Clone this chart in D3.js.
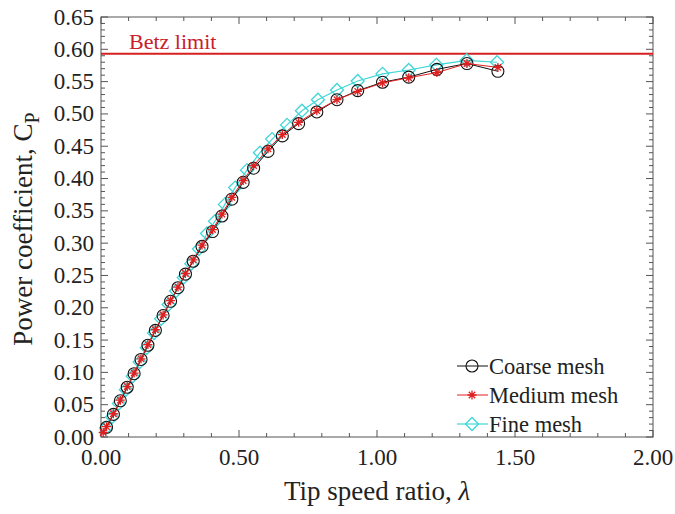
<!DOCTYPE html>
<html><head><meta charset="utf-8">
<script src="https://cdn.jsdelivr.net/npm/d3@7"></script>
<style>body{margin:0;background:#fff}svg{display:block}text{font-family:"Liberation Serif","Times New Roman",serif}</style>
</head><body><svg id="c" width="675" height="514"></svg>
<script>
const coarseX = [0.02,0.045,0.07,0.095,0.12,0.145,0.17,0.197,0.225,0.252,0.279,0.306,0.334,0.366,0.404,0.438,0.474,0.515,0.553,0.605,0.657,0.716,0.782,0.855,0.93,1.02,1.115,1.217,1.326,1.438];
const coarseY = [0.015,0.035,0.056,0.077,0.098,0.12,0.142,0.165,0.188,0.21,0.231,0.252,0.272,0.295,0.318,0.342,0.368,0.394,0.416,0.442,0.466,0.485,0.503,0.522,0.536,0.549,0.557,0.569,0.578,0.566];
const mediumX = [0.008,0.02,0.045,0.07,0.095,0.12,0.145,0.17,0.197,0.225,0.252,0.279,0.306,0.334,0.366,0.404,0.438,0.474,0.515,0.553,0.605,0.657,0.716,0.782,0.855,0.93,1.02,1.115,1.217,1.326,1.438];
const mediumY = [0.007,0.016,0.036,0.057,0.078,0.099,0.121,0.143,0.166,0.189,0.211,0.232,0.253,0.274,0.297,0.321,0.345,0.371,0.397,0.42,0.446,0.468,0.487,0.505,0.522,0.535,0.548,0.556,0.564,0.578,0.572];
const fineX = [0.018,0.04,0.065,0.09,0.115,0.14,0.166,0.192,0.218,0.245,0.272,0.30,0.327,0.355,0.384,0.413,0.449,0.486,0.529,0.576,0.62,0.674,0.728,0.786,0.855,0.93,1.02,1.115,1.215,1.325,1.435];
const fineY = [0.014,0.031,0.052,0.073,0.094,0.116,0.138,0.161,0.183,0.205,0.226,0.247,0.268,0.291,0.315,0.334,0.36,0.386,0.413,0.44,0.461,0.483,0.505,0.522,0.537,0.551,0.562,0.568,0.576,0.583,0.58];
const betz = 0.593;
const xTicks = [0,0.5,1.0,1.5,2.0];
const yTicks = [0,0.05,0.1,0.15,0.2,0.25,0.3,0.35,0.4,0.45,0.5,0.55,0.6,0.65];
const seriesNames = ["Coarse mesh","Medium mesh","Fine mesh"];

const svg = d3.select("#c");
const L=101,R=653,T=17,B=437;
const x = d3.scaleLinear().domain([0,2]).range([L,R]);
const y = d3.scaleLinear().domain([0,0.65]).range([B,T]);
const axisCol="#555";

svg.append("rect").attr("x",L).attr("y",T).attr("width",R-L).attr("height",B-T)
  .attr("fill","none").attr("stroke",axisCol).attr("stroke-width",1);

const xMinor = d3.range(0,2.0001,0.1);
const yMinor = d3.range(0,0.6501,0.01);
const g = svg.append("g").attr("stroke",axisCol).attr("stroke-width",1);
xMinor.forEach(v=>{
  const major = xTicks.some(t=>Math.abs(t-v)<1e-6);
  const len = major?7:4;
  g.append("line").attr("x1",x(v)).attr("x2",x(v)).attr("y1",B).attr("y2",B-len);
  g.append("line").attr("x1",x(v)).attr("x2",x(v)).attr("y1",T).attr("y2",T+len);
});
yMinor.forEach(v=>{
  const major = yTicks.some(t=>Math.abs(t-v)<1e-6);
  const len = major?7:4;
  g.append("line").attr("y1",y(v)).attr("y2",y(v)).attr("x1",L).attr("x2",L+len);
  g.append("line").attr("y1",y(v)).attr("y2",y(v)).attr("x1",R).attr("x2",R-len);
});
svg.append("g").selectAll("text").data(xTicks).join("text")
  .attr("x",d=>x(d)).attr("y",B+28).attr("text-anchor","middle")
  .attr("font-size",23).attr("fill","#222").text(d=>d.toFixed(2));
svg.append("g").selectAll("text").data(yTicks).join("text")
  .attr("x",L-7).attr("y",d=>y(d)+7.5).attr("text-anchor","end")
  .attr("font-size",23).attr("fill","#222").text(d=>d.toFixed(2));

const xt = svg.append("text").attr("x",(L+R)/2).attr("y",B+63).attr("text-anchor","middle")
  .attr("font-size",27).attr("fill","#222");
xt.append("tspan").text("Tip speed ratio, ");
xt.append("tspan").attr("font-style","italic").text("λ");
const yt = svg.append("text").attr("transform",`translate(32,${(T+B)/2+2}) rotate(-90)`)
  .attr("text-anchor","middle").attr("font-size",27).attr("fill","#222");
yt.append("tspan").text("Power coefficient, C");
yt.append("tspan").attr("font-size",20).attr("dy",7).text("P");

svg.append("line").attr("x1",L).attr("x2",R).attr("y1",y(betz)).attr("y2",y(betz))
  .attr("stroke","#d62020").attr("stroke-width",2);
svg.append("text").attr("x",129).attr("y",y(betz)-5).attr("font-size",22).attr("fill","#c8202a").text("Betz limit");

const series = [
  {xs:coarseX, ys:coarseY, color:"#111", marker:"circle", lw:1},
  {xs:mediumX, ys:mediumY, color:"#e02020", marker:"star", lw:1},
  {xs:fineX, ys:fineY, color:"#3fd6d6", marker:"diamond", lw:1.2}
];
const line = d3.line().x(d=>x(d[0])).y(d=>y(d[1]));
function drawMarker(sel, type, color){
  if(type==="circle"){
    sel.append("circle").attr("r",6).attr("fill","none").attr("stroke",color).attr("stroke-width",1.1);
  } else if(type==="diamond"){
    sel.append("path").attr("d","M0,-6.5L6.5,0L0,6.5L-6.5,0Z").attr("fill","none").attr("stroke",color).attr("stroke-width",1.3);
  } else {
    const s=4.5, d=3.2;
    sel.append("path").attr("d",`M${-s},0L${s},0M0,${-s}L0,${s}M${-d},${-d}L${d},${d}M${-d},${d}L${d},${-d}`)
      .attr("stroke",color).attr("stroke-width",1.3).attr("fill","none");
  }
}
[2,0,1].forEach(i=>{
  const s=series[i];
  const pts = s.xs.map((v,k)=>[v,s.ys[k]]);
  svg.append("path").datum(pts).attr("d",line).attr("fill","none").attr("stroke",s.color).attr("stroke-width",s.lw);
  svg.append("g").selectAll("g").data(pts).join("g")
    .attr("transform",d=>`translate(${x(d[0])},${y(d[1])})`)
    .each(function(){drawMarker(d3.select(this),s.marker,s.color);});
});

const lg = svg.append("g");
seriesNames.forEach((n,i)=>{
  const s=series[i]; const yy=366+i*29;
  lg.append("line").attr("x1",457).attr("x2",488).attr("y1",yy).attr("y2",yy).attr("stroke",s.color).attr("stroke-width",s.lw);
  const m=lg.append("g").attr("transform",`translate(472,${yy})`);
  drawMarker(m,s.marker,s.color);
  lg.append("text").attr("x",489).attr("y",yy+7.5).attr("font-size",22.5).attr("fill","#222").text(n);
});
</script></body></html>
